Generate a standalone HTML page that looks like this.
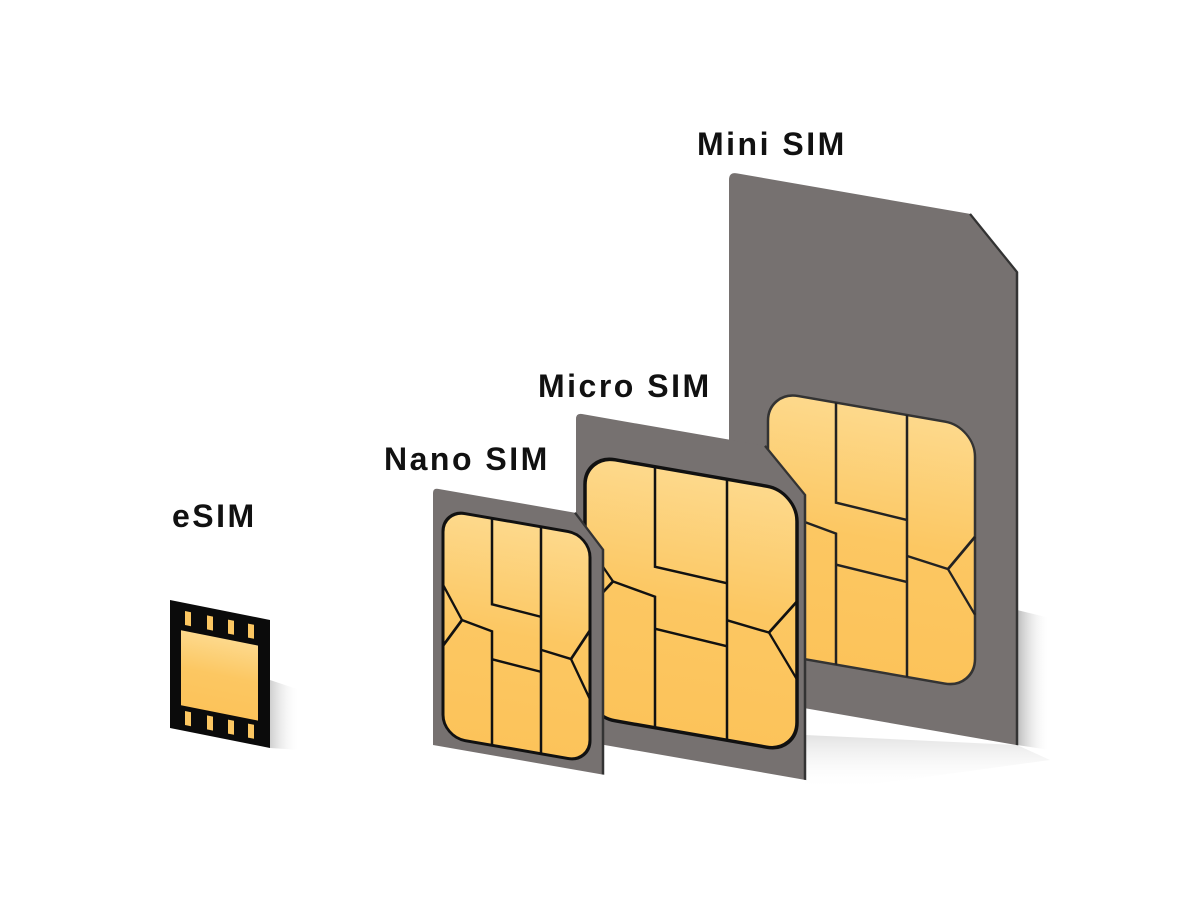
<!DOCTYPE html>
<html><head><meta charset="utf-8"><style>
html,body{margin:0;padding:0;background:#fff;width:1200px;height:900px;overflow:hidden}
svg{display:block}
text{font-family:"Liberation Sans",sans-serif;font-weight:bold;font-size:32px;fill:#111;letter-spacing:2.5px}
</style></head><body>
<svg width="1200" height="900" viewBox="0 0 1200 900" xmlns="http://www.w3.org/2000/svg">
<defs>
<linearGradient id="gold" x1="0" y1="0" x2="0" y2="1">
<stop offset="0" stop-color="#fdd98c"/><stop offset="0.5" stop-color="#fcc762"/><stop offset="1" stop-color="#fcc35a"/>
</linearGradient>
<linearGradient id="sh" x1="0" y1="0" x2="1" y2="0">
<stop offset="0" stop-color="#aaa" stop-opacity="0.8"/><stop offset="1" stop-color="#fff" stop-opacity="0"/>
</linearGradient>
<linearGradient id="shv" x1="0" y1="0" x2="0" y2="1">
<stop offset="0" stop-color="#bbb" stop-opacity="0.7"/><stop offset="1" stop-color="#fff" stop-opacity="0"/>
</linearGradient>
</defs>

<text x="172" y="527">eSIM</text>
<text x="384" y="470">Nano SIM</text>
<text x="538" y="397">Micro SIM</text>
<text x="697" y="155">Mini SIM</text>

<!-- shadows -->
<polygon points="1017,610 1050,618 1050,750 1017,745" fill="url(#sh)"/>
<polygon points="805,735 1017,745 1050,760 830,790 805,790" fill="url(#shv)" opacity="0.6"/>
<polygon points="270,680 300,690 300,750 270,748" fill="url(#sh)" opacity="0.7"/>

<!-- Mini SIM -->
<g transform="translate(729,172) matrix(1,0.174,0,1,0,0)">
<path d="M8,0 L241,0 L288,50 L288,523 L0,523 L0,8 Q0,0 8,0 Z" fill="#767170"/>
<path d="M241,0 L288,50 L288,523" fill="none" stroke="#333" stroke-width="2.5"/>
<g transform="translate(39,212)">
<rect x="0" y="0" width="207" height="262" rx="30" fill="url(#gold)" stroke="#333" stroke-width="2.5"/>
<g fill="none" stroke="#222" stroke-width="2.5">
<polyline points="68,0 68,100 139,105"/>
<line x1="139" y1="0" x2="139" y2="262"/>
<polyline points="0,86 27,123 0,157"/><polyline points="27,123 68,131 68,262"/>
<line x1="68" y1="162" x2="139" y2="167"/>
<polyline points="207,110 180,147 207,188"/><line x1="139" y1="141" x2="180" y2="147"/>
</g></g>
</g>

<!-- Micro SIM -->
<g transform="translate(576,413) matrix(1,0.174,0,1,0,0)">
<path d="M6,0 L189,0 L229,42 L229,327 L0,327 L0,6 Q0,0 6,0 Z" fill="#767170"/>
<path d="M189,0 L229,42 L229,327" fill="none" stroke="#333" stroke-width="2.5"/>
<g transform="translate(9,40)">
<rect x="0" y="0" width="212" height="261" rx="30" fill="url(#gold)" stroke="#111" stroke-width="3.5"/>
<g fill="none" stroke="#111" stroke-width="2.5">
<polyline points="70,0 70,100 142,104"/>
<line x1="142" y1="0" x2="142" y2="261"/>
<polyline points="0,86 28,122 0,157"/><polyline points="28,122 70,130 70,261"/>
<line x1="70" y1="162" x2="142" y2="167"/>
<polyline points="212,110 184,146 212,188"/><line x1="142" y1="141" x2="184" y2="146"/>
</g></g>
</g>

<!-- Nano SIM -->
<g transform="translate(433,488) matrix(1,0.174,0,1,0,0)">
<path d="M5,0 L142,0 L170,32 L170,257 L0,257 L0,5 Q0,0 5,0 Z" fill="#767170"/>
<path d="M142,0 L170,32 L170,257" fill="none" stroke="#333" stroke-width="2.5"/>
<g transform="translate(10,20)">
<rect x="0" y="0" width="147" height="227" rx="22" fill="url(#gold)" stroke="#111" stroke-width="3"/>
<g fill="none" stroke="#111" stroke-width="2.5">
<polyline points="49,0 49,86 98,90"/>
<line x1="98" y1="0" x2="98" y2="227"/>
<polyline points="0,75 19,107 0,136"/><polyline points="19,107 49,113 49,227"/>
<line x1="49" y1="141" x2="98" y2="145"/>
<polyline points="147,95 128,127 147,164"/><line x1="98" y1="123" x2="128" y2="127"/>
</g></g>
</g>

<!-- eSIM -->
<g transform="translate(170,600) matrix(1,0.2,0,1,0,0)">
<rect x="0" y="0" width="100" height="128" fill="#0b0b0b"/>
<rect x="11" y="28" width="77" height="75" fill="url(#gold)"/>
<g fill="#fcc762">
<rect x="15" y="8" width="6" height="14"/><rect x="37" y="8" width="6" height="14"/><rect x="58" y="8" width="6" height="14"/><rect x="78" y="8" width="6" height="14"/>
<rect x="15" y="108" width="6" height="14"/><rect x="37" y="108" width="6" height="14"/><rect x="58" y="108" width="6" height="14"/><rect x="78" y="108" width="6" height="14"/>
</g>
</g>
</svg>
</body></html>
